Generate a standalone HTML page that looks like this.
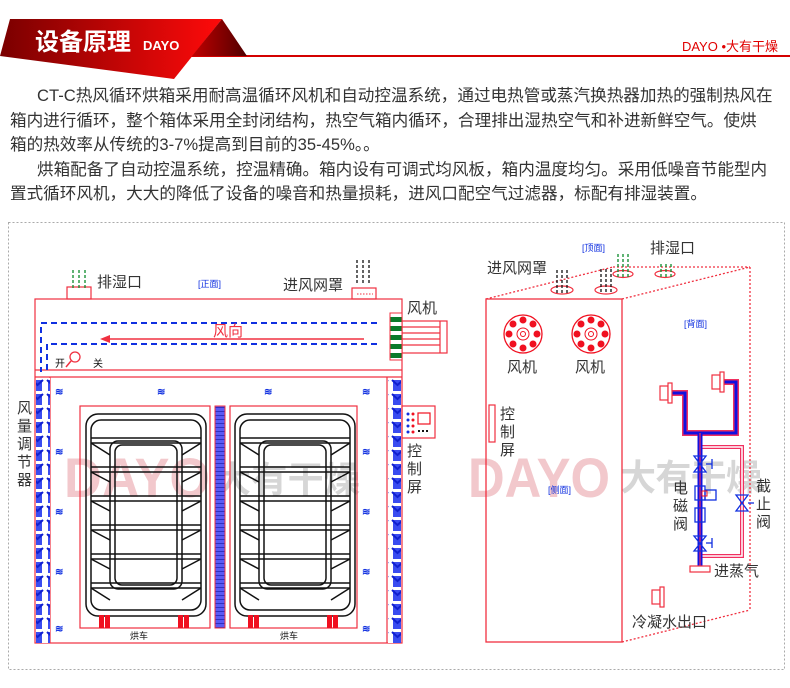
<!DOCTYPE html>
<html><head><meta charset="utf-8">
<style>
html,body{margin:0;padding:0;background:#fff;}
body{width:790px;height:688px;position:relative;overflow:hidden;font-family:"Liberation Sans","Noto Sans CJK SC",sans-serif;}
.p{position:absolute;white-space:nowrap;font-size:16.6px;color:#333;line-height:20px;font-family:"Liberation Sans","Noto Sans CJK SC",sans-serif;}
svg{position:absolute;left:0;top:0;}
</style></head><body>
<div class="p" style="left:37px;top:86px;">CT-C热风循环烘箱采用耐高温循环风机和自动控温系统，通过电热管或蒸汽换热器加热的强制热风在</div>
<div class="p" style="left:10px;top:111px;">箱内进行循环，整个箱体采用全封闭结构，热空气箱内循环，合理排出湿热空气和补进新鲜空气。使烘</div>
<div class="p" style="left:10px;top:135px;">箱的热效率从传统的3-7%提高到目前的35-45%。。</div>
<div class="p" style="left:37px;top:160px;">烘箱配备了自动控温系统，控温精确。箱内设有可调式均风板，箱内温度均匀。采用低噪音节能型内</div>
<div class="p" style="left:10px;top:184px;">置式循环风机，大大的降低了设备的噪音和热量损耗，进风口配空气过滤器，标配有排湿装置。</div>

<svg width="790" height="688" viewBox="0 0 790 688" font-family="Liberation Sans, Noto Sans CJK SC, sans-serif">
<defs>
<linearGradient id="bn" x1="0" x2="1" y1="0" y2="0"><stop offset="0" stop-color="#7a0000"/><stop offset="1" stop-color="#ff0a0a"/></linearGradient>
<linearGradient id="dk" x1="0" x2="1" y1="0" y2="0"><stop offset="0" stop-color="#c00000"/><stop offset="1" stop-color="#500000"/></linearGradient>
<pattern id="bl" width="15" height="14" patternUnits="userSpaceOnUse"><rect width="15" height="14" fill="#fff"/><rect x="3" y="2" width="9" height="11" fill="#3a4cf0"/><path d="M2 2 L7.5 7 L13 2" stroke="#1020d0" stroke-width="2" fill="none"/></pattern>
<pattern id="mb" width="10" height="4" patternUnits="userSpaceOnUse"><rect width="10" height="4" fill="#5a5af5"/><line x1="0" y1="3.5" x2="10" y2="3.5" stroke="#3030c0" stroke-width="1"/></pattern>
<pattern id="gr" width="12" height="9" patternUnits="userSpaceOnUse"><rect width="12" height="9" fill="#fff"/><rect y="2" width="12" height="5" fill="#0a7a2a"/></pattern>
</defs>
<!-- banner -->
<line x1="190" y1="56" x2="790" y2="56" stroke="#d40000" stroke-width="2"/>
<polygon points="10,19 222,19 174,79 0,56" fill="url(#bn)"/>
<polygon points="222,19 247,56 192,56" fill="url(#dk)"/>
<text x="35" y="50" font-size="24" font-weight="bold" fill="#fff" font-family="Noto Sans CJK SC, sans-serif">设备原理</text>
<text x="143" y="50" font-size="13" fill="#fff" font-weight="bold">DAYO</text>
<text x="778" y="51" font-size="13" fill="#e00000" text-anchor="end">DAYO •大有干燥</text>

<!-- outer dashed frame -->
<rect x="8.5" y="222.5" width="776" height="447" fill="none" stroke="#aaa" stroke-dasharray="2,2"/>

<!-- watermarks -->
<g font-weight="bold">
<text x="64" y="497" fill="#f2c8cc" font-size="56" textLength="146" lengthAdjust="spacingAndGlyphs" font-family="Liberation Sans, sans-serif">DAYO</text>
<text x="215" y="492" fill="#d6d6d6" font-size="36" textLength="145" font-family="Noto Sans CJK SC, sans-serif">大有干燥</text>
<text x="468" y="497" fill="#f2c8cc" font-size="56" textLength="142" lengthAdjust="spacingAndGlyphs" font-family="Liberation Sans, sans-serif">DAYO</text>
<text x="620" y="490" fill="#d6d6d6" font-size="36" textLength="142" font-family="Noto Sans CJK SC, sans-serif">大有干燥</text>
</g>

<!-- LEFT MACHINE -->
<g fill="none" stroke="#f03040" stroke-width="1.2">
<rect x="35" y="299" width="367" height="344"/>
<line x1="35" y1="370" x2="402" y2="370"/><line x1="35" y1="377" x2="402" y2="377"/>
<line x1="50" y1="377" x2="50" y2="643"/><line x1="387" y1="377" x2="387" y2="643"/>
<rect x="67" y="287" width="24" height="12"/>
<rect x="352" y="288" width="24" height="11"/>
<rect x="402" y="321" width="45" height="32"/>
<line x1="440" y1="321" x2="440" y2="353"/>
<line x1="402" y1="327" x2="440" y2="327"/><line x1="402" y1="333" x2="440" y2="333"/><line x1="402" y1="339" x2="440" y2="339"/><line x1="402" y1="345" x2="440" y2="345"/>
<rect x="402" y="406" width="33" height="32"/>
<rect x="80" y="406" width="130" height="222"/>
<rect x="230" y="406" width="127" height="222"/>
</g>
<line x1="357" y1="294" x2="373" y2="294" stroke="#f03040" stroke-dasharray="1.5,1.5"/>
<g stroke="#0a8a2a" stroke-width="1.3" stroke-dasharray="3,2"><line x1="73" y1="270" x2="73" y2="288"/><line x1="79" y1="270" x2="79" y2="288"/><line x1="85" y1="270" x2="85" y2="288"/></g>
<g stroke="#111" stroke-width="1.3" stroke-dasharray="3,2"><line x1="357" y1="260" x2="357" y2="284"/><line x1="363" y1="260" x2="363" y2="284"/><line x1="369" y1="260" x2="369" y2="284"/></g>
<text x="97" y="287" font-size="15" fill="#333">排湿口</text>
<text x="198" y="287" font-size="9" fill="#1030e0">[正面]</text>
<text x="283" y="290" font-size="15" fill="#333">进风网罩</text>
<text x="407" y="313" font-size="15" fill="#333">风机</text>
<rect x="390" y="313" width="12" height="47" fill="url(#gr)" stroke="#f03040"/>
<g stroke="#1030e0" stroke-width="2" stroke-dasharray="6,4" fill="none">
<polyline points="377,323 41,323 41,372"/>
<polyline points="377,344 47,344 47,372"/>
</g>
<line x1="364" y1="339" x2="106" y2="339" stroke="#f03040" stroke-width="1.5"/>
<polygon points="100,339 110,335 110,343" fill="#f03040"/>
<text x="213" y="336" font-size="15" fill="#f03040">风向</text>
<text x="55" y="367" font-size="10" fill="#111">开</text>
<circle cx="75" cy="357" r="5" fill="none" stroke="#f03040" stroke-width="1.3"/>
<line x1="71" y1="361" x2="66" y2="367" stroke="#f03040" stroke-width="1.5"/>
<text x="93" y="367" font-size="10" fill="#111">关</text>
<rect x="36" y="378" width="14" height="265" fill="url(#bl)"/>
<rect x="388" y="378" width="13" height="265" fill="url(#bl)"/>
<rect x="215" y="406" width="10" height="222" fill="url(#mb)" stroke="#f03040"/>
<g font-size="10" fill="#1030e0" font-weight="bold">
<text x="55" y="395">≋</text><text x="157" y="395">≋</text><text x="264" y="395">≋</text><text x="362" y="395">≋</text>
<text x="55" y="455">≋</text><text x="362" y="455">≋</text>
<text x="55" y="515">≋</text><text x="362" y="515">≋</text>
<text x="55" y="575">≋</text><text x="362" y="575">≋</text>
<text x="55" y="632">≋</text><text x="362" y="632">≋</text>
</g>
<g id="cart" fill="none" stroke="#111" stroke-width="1.5">
<rect x="86" y="414" width="120" height="202" rx="12"/>
<rect x="91" y="420" width="110" height="190" rx="10"/>
<rect x="110" y="441" width="72" height="148" rx="8"/>
<rect x="115" y="445" width="62" height="140" rx="7"/>
<line x1="91" y1="438" x2="201" y2="438"/><line x1="91" y1="443" x2="201" y2="443"/>
<line x1="91" y1="467" x2="201" y2="467"/><line x1="91" y1="472" x2="201" y2="472"/>
<line x1="91" y1="496" x2="201" y2="496"/><line x1="91" y1="501" x2="201" y2="501"/>
<line x1="91" y1="525" x2="201" y2="525"/><line x1="91" y1="530" x2="201" y2="530"/>
<line x1="91" y1="554" x2="201" y2="554"/><line x1="91" y1="559" x2="201" y2="559"/>
<line x1="91" y1="583" x2="201" y2="583"/><line x1="91" y1="588" x2="201" y2="588"/>
<path d="M91 443 L110 455 M201 443 L182 455 M91 472 L110 482 M201 472 L182 482 M91 501 L110 511 M201 501 L182 511 M91 530 L110 540 M201 530 L182 540 M91 559 L110 569 M201 559 L182 569 M91 588 L110 600 M201 588 L182 600"/>
<rect x="99" y="615" width="5" height="13" fill="#f01020" stroke="none"/><rect x="105" y="615" width="5" height="13" fill="#f01020" stroke="none"/>
<rect x="178" y="615" width="5" height="13" fill="#f01020" stroke="none"/><rect x="184" y="615" width="5" height="13" fill="#f01020" stroke="none"/>
</g>
<use href="#cart" x="149"/>
<text x="130" y="639" font-size="9" fill="#111">烘车</text>
<text x="280" y="639" font-size="9" fill="#111">烘车</text>
<g fill="#1030e0"><circle cx="408" cy="414" r="1.5"/><circle cx="408" cy="420" r="1.5"/><circle cx="408" cy="426" r="1.5"/><circle cx="408" cy="432" r="1.5"/></g>
<g fill="#f01020"><circle cx="413" cy="414" r="1.5"/><circle cx="413" cy="420" r="1.5"/><circle cx="413" cy="426" r="1.5"/><circle cx="413" cy="432" r="1.5"/></g>
<rect x="418" y="413" width="12" height="11" fill="none" stroke="#f01020" stroke-width="1.2"/>
<g fill="#111"><rect x="418" y="430" width="2" height="2"/><rect x="422" y="430" width="2" height="2"/><rect x="426" y="430" width="2" height="2"/></g>
<g font-size="15" fill="#333">
<text x="17" y="413">风</text><text x="17" y="431">量</text><text x="17" y="449">调</text><text x="17" y="467">节</text><text x="17" y="485">器</text>
<text x="407" y="456">控</text><text x="407" y="474">制</text><text x="407" y="492">屏</text>
</g>

<!-- RIGHT MACHINE -->
<g fill="none" stroke="#f03040" stroke-width="1.3" stroke-dasharray="2,2">
<line x1="486" y1="299" x2="613" y2="267"/>
<line x1="622" y1="299" x2="750" y2="267"/>
<line x1="613" y1="267" x2="750" y2="267"/>
<line x1="750" y1="267" x2="750" y2="610"/>
<line x1="622" y1="642" x2="750" y2="610"/>
</g>
<rect x="486" y="299" width="136" height="343" fill="none" stroke="#f03040" stroke-width="1.3"/>
<text x="582" y="251" font-size="9" fill="#1030e0">[顶面]</text>
<text x="650" y="253" font-size="15" fill="#333">排湿口</text>
<text x="487" y="273" font-size="15" fill="#333">进风网罩</text>
<g fill="none" stroke="#f03040" stroke-width="1.2">
<ellipse cx="562" cy="290" rx="11" ry="4"/><ellipse cx="606" cy="290" rx="11" ry="4"/>
<ellipse cx="623" cy="274" rx="10" ry="3.5"/><ellipse cx="665" cy="274" rx="10" ry="3.5"/>
</g>
<g stroke="#111" stroke-width="1.3" stroke-dasharray="3,2">
<line x1="557" y1="270" x2="557" y2="294"/><line x1="562" y1="270" x2="562" y2="294"/><line x1="567" y1="270" x2="567" y2="294"/>
<line x1="601" y1="269" x2="601" y2="294"/><line x1="606" y1="269" x2="606" y2="294"/><line x1="611" y1="269" x2="611" y2="294"/>
</g>
<g stroke="#0a8a2a" stroke-width="1.3" stroke-dasharray="3,2">
<line x1="618" y1="254" x2="618" y2="278"/><line x1="623" y1="254" x2="623" y2="278"/><line x1="628" y1="254" x2="628" y2="278"/>
<line x1="661" y1="264" x2="661" y2="278"/><line x1="666" y1="264" x2="666" y2="278"/><line x1="671" y1="264" x2="671" y2="278"/>
</g>
<g id="fan">
<circle cx="523" cy="334" r="19" fill="none" stroke="#f01020" stroke-width="1.3"/>
<g fill="#f01020"><circle cx="523" cy="320" r="3.5"/><circle cx="533" cy="324" r="3.5"/><circle cx="537" cy="334" r="3.5"/><circle cx="533" cy="344" r="3.5"/><circle cx="523" cy="348" r="3.5"/><circle cx="513" cy="344" r="3.5"/><circle cx="509" cy="334" r="3.5"/><circle cx="513" cy="324" r="3.5"/></g>
<circle cx="523" cy="334" r="6" fill="none" stroke="#f01020"/><circle cx="523" cy="334" r="2.5" fill="none" stroke="#f01020"/>
</g>
<use href="#fan" x="68"/>
<text x="507" y="372" font-size="15" fill="#333">风机</text>
<text x="575" y="372" font-size="15" fill="#333">风机</text>
<rect x="489" y="405" width="6" height="37" fill="none" stroke="#f03040" stroke-width="1.2"/>
<g font-size="15" fill="#333"><text x="500" y="419">控</text><text x="500" y="437">制</text><text x="500" y="455">屏</text></g>
<text x="548" y="493" font-size="9" fill="#1030e0">[侧面]</text>
<text x="684" y="327" font-size="9" fill="#1030e0">[背面]</text>
<polyline points="672,393 685,393 685,433 736,433 736,382 724,382" fill="none" stroke="#f03060" stroke-width="6"/>
<polyline points="672,393 685,393 685,433 736,433 736,382 724,382" fill="none" stroke="#1010e0" stroke-width="3"/>
<polyline points="700,447 742,447 742,556 700,556" fill="none" stroke="#f03060" stroke-width="4"/>
<polyline points="700,447 742,447 742,556 700,556" fill="none" stroke="#fff" stroke-width="1.5"/>
<line x1="700" y1="433" x2="700" y2="568" stroke="#1010e0" stroke-width="5"/>
<line x1="700" y1="433" x2="700" y2="568" stroke="#f03060" stroke-width="1.2"/>
<g fill="#fff" stroke="#f03040" stroke-width="1.2">
<rect x="660" y="386" width="8" height="14"/><rect x="668" y="383" width="4" height="20"/>
<rect x="712" y="375" width="8" height="14"/><rect x="720" y="372" width="4" height="20"/>
<rect x="690" y="566" width="20" height="6"/>
<rect x="652" y="590" width="8" height="14"/><rect x="660" y="587" width="4" height="20"/>
</g>
<g fill="none" stroke="#1030e0" stroke-width="1.3">
<path d="M694 456 L706 456 L694 472 L706 472 Z"/><line x1="706" y1="464" x2="712" y2="464"/><line x1="712" y1="459" x2="712" y2="469"/>
<path d="M694 536 L706 536 L694 551 L706 551 Z"/><line x1="706" y1="543" x2="712" y2="543"/><line x1="712" y1="538" x2="712" y2="548"/>
<path d="M736 495 L748 495 L736 511 L748 511 Z"/><line x1="748" y1="503" x2="754" y2="503"/>
<rect x="695" y="486" width="10" height="14"/><rect x="695" y="508" width="10" height="14"/>
<rect x="705" y="490" width="11" height="10"/>
</g>
<rect x="702" y="491" width="5" height="5" fill="none" stroke="#f01020"/>
<g font-size="15" fill="#333">
<text x="673" y="493">电</text><text x="673" y="511">磁</text><text x="673" y="529">阀</text>
<text x="756" y="491">截</text><text x="756" y="509">止</text><text x="756" y="527">阀</text>
<text x="714" y="576">进蒸气</text>
<text x="632" y="627">冷凝水出口</text>
</g>
</svg>
</body></html>
